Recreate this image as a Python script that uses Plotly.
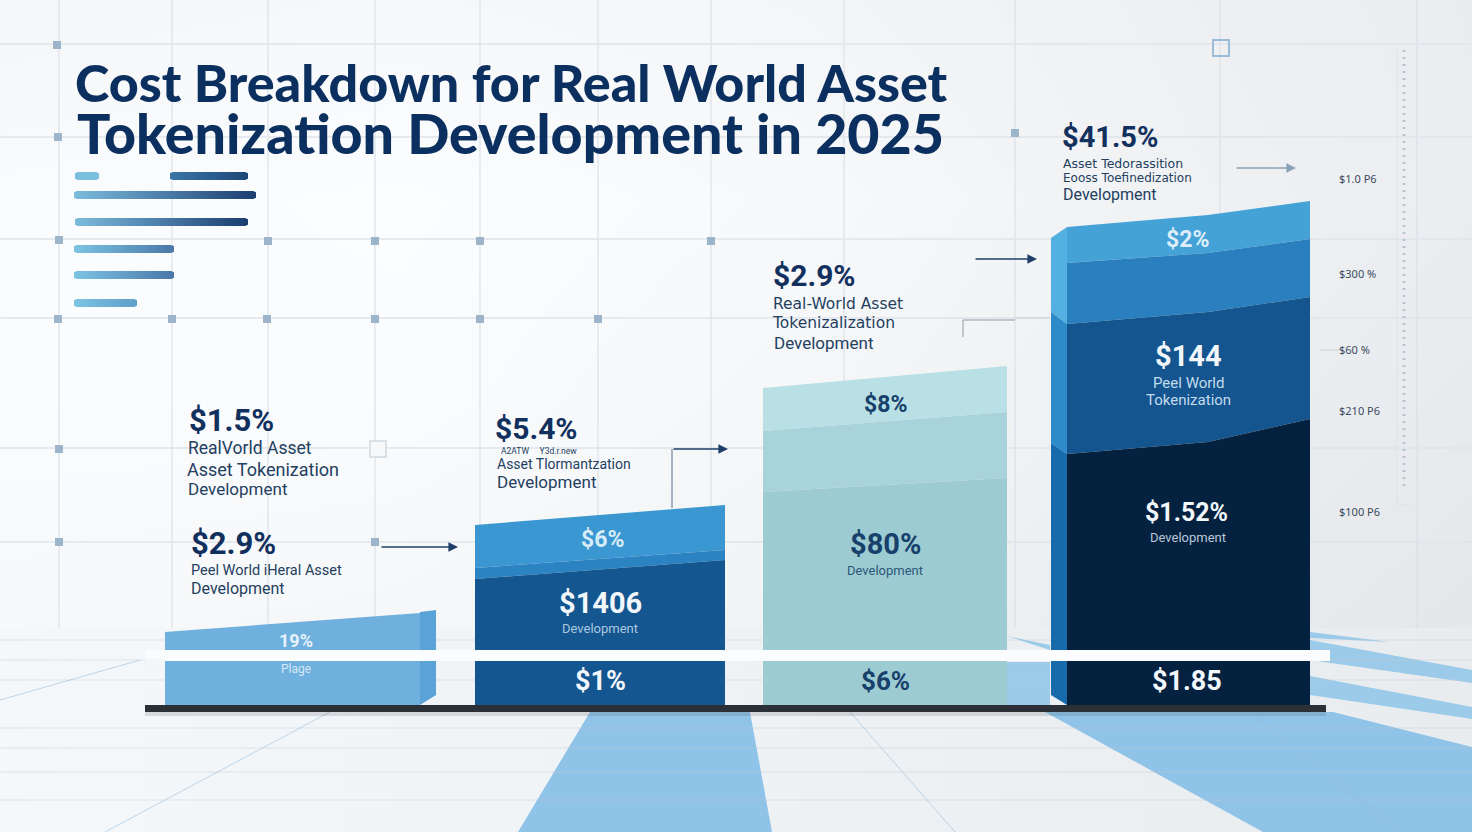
import plotly.graph_objects as go

# ---------- chart values: heights of each band boundary above the base line ----------
BAR1_TOP = [73, 92]

BAR2_TOP = [180, 200]
BAR2_BAND_A = [137, 155]
BAR2_BAND_B = [126, 145]

BAR3_TOP = [317, 339]
BAR3_BAND_A = [274, 293]
BAR3_BAND_B = [213, 227]

BAR4_TOP = [478, 490, 504]
BAR4_BAND_A = [442, 452, 466]
BAR4_BAND_B = [381, 393, 408]
BAR4_BAND_C = [251, 263, 286]

BAR4_SIDE_TOP = [467, 478]
BAR4_SIDE_A = [393, 381]
BAR4_SIDE_B = [262, 251]
BAR4_SIDE_BASE = [10, 0]

BAR1_SIDE_TOP = [93, 95]
BAR1_SIDE_BASE = [0, 10]

# ---------- texts ----------
TITLE_LINES = ["Cost Breakdown for Real World Asset", "Tokenization Development in 2025"]
VALUE_TEXT = [
    ("$1.5%", 187, 420, 31), ("$2.9%", 189, 543, 31), ("$5.4%", 493, 428, 30),
    ("$2.9%", 771, 275, 30), ("$41.5%", 1060, 137, 29),
]
BODY_TEXT = [
    ("RealVorld Asset", 186, 448, 17.5, "Roboto"), ("Asset Tokenization", 185, 469, 18, "Roboto"),
    ("Development", 186, 489, 17, "Roboto"),
    ("Peel World iHeral Asset", 189, 570, 14.5, "Roboto"), ("Development", 189, 588, 16, "Roboto"),
    ("A2ATW     Y3d.r.new", 499, 451, 8.5, "Roboto"), ("Asset Tlormantzation", 495, 464, 14, "Roboto"),
    ("Development", 495, 482, 17, "Roboto"),
    ("Real-World Asset", 771, 304, 15.5, "DejaVu Sans"), ("Tokenizalization", 770, 323, 15.5, "DejaVu Sans"),
    ("Development", 772, 343, 17, "Roboto"),
    ("Asset Tedorassition", 1061, 163, 12.5, "DejaVu Sans"), ("Eooss Toefinedization", 1061, 178, 12, "DejaVu Sans"),
    ("Development", 1061, 194, 16, "Roboto"),
]
AXIS_TEXT = [("$1.0 P6", 178), ("$300 %", 273), ("$60 %", 349), ("$210 P6", 410), ("$100 P6", 511)]
BAR_TEXT = [
    ("19%", 296, 640, 18, True, "#e8f2fa"), ("Plage", 296, 669, 12, False, "#d5e7f5"),
    ("$6%", 602, 539, 23, True, "#d8ecf8"), ("$1406", 600, 603, 29, True, "#f2f7fb"),
    ("Development", 600, 628, 13, False, "#a9c8e0"), ("$1%", 600, 681, 27, True, "#f2f7fb"),
    ("$8%", 885, 404, 23, True, "#17406b"), ("$80%", 885, 544, 29, True, "#17406b"),
    ("Development", 885, 570, 13, False, "#2d5878"), ("$6%", 885, 681, 26, True, "#17406b"),
    ("$2%", 1187, 239, 23, True, "#dceefa"), ("$144", 1188, 356, 29, True, "#f2f7fb"),
    ("Peel World", 1188, 383, 15, False, "#c3dcee"), ("Tokenization", 1188, 400, 15, False, "#c3dcee"),
    ("$1.52%", 1186, 512, 25, True, "#f2f7fb"), ("Development", 1188, 537, 13, False, "#b8c8d8"),
    ("$1.85", 1187, 681, 27, True, "#f2f7fb"),
]

# ---------- decoration ----------
GRID_X = [59, 172, 268, 375, 480, 598, 711, 844, 1015, 1220, 1417]
GRID_Y = [44, 137, 239, 318, 448, 542]
NODES_X = [57, 58, 59, 58, 59, 59, 172, 268, 267, 375, 375, 480, 480, 598, 711, 1015, 375]
NODES_Y = [45, 137, 240, 319, 449, 542, 319, 241, 319, 241, 319, 241, 319, 319, 241, 133, 542]
FLOOR_Y = [640, 660, 680, 728, 748, 772, 800]
BG_X = [-100, 400, 800, 1200, 1572]
BG_Y = [-50, 200, 400, 640]
BG_Z = [[.66, .76, .68, .48, .35],
        [.92, 1.0, .85, .55, .35],
        [.95, .95, .75, .45, .25],
        [.85, .75, .60, .30, .15]]
LEGEND_BARS = [(75, 99, 176, "#7cc0e0", "#7cc0e0"), (170, 248, 176, "#3b75a8", "#1d4878"),
               (74, 256, 195, "#7cbcdd", "#1b3d70"), (75, 248, 222, "#7cbcdd", "#1b3d70"),
               (74, 174, 249, "#7cc4e4", "#4a78a8"), (74, 174, 275, "#7cc4e4", "#4a78a8"),
               (74, 137, 303, "#7cc4e4", "#5f9ec9")]
BASE = 705

fig = go.Figure()

def poly(xs, ys, color=None, axis="y", grad=None, gtype="horizontal"):
    kw = dict(x=xs + xs[:1], y=ys + ys[:1], mode="none", fill="toself", hoverinfo="skip",
              showlegend=False, yaxis=axis)
    if grad:
        kw["fillgradient"] = dict(type=gtype, colorscale=[[0, grad[0]], [1, grad[1]]])
    else:
        kw["fillcolor"] = color
    fig.add_trace(go.Scatter(**kw))

def pill(x0, x1, yc, c0, c1, h=4):
    r = h * 0.7
    xs = [x0 + r, x1 - r, x1, x1, x1 - r, x0 + r, x0, x0]
    ys = [yc - h, yc - h, yc - r, yc + r, yc + h, yc + h, yc + r, yc - r]
    poly(xs, ys, grad=(c0, c1))

def band(x0, x1, upper, lower, color, fracs=None):
    fr = fracs or [0, 1]
    xs = [x0 + (x1 - x0) * f for f in fr]
    poly(xs + xs[::-1], list(upper) + list(lower)[::-1], color, axis="y2")

# background, floor
fig.add_trace(go.Heatmap(x=BG_X, y=BG_Y, z=BG_Z, zsmooth="best", showscale=False, zmin=0, zmax=1,
                         colorscale=[[0, "#dfe2e6"], [1, "#fcfdfe"]], hoverinfo="skip"))
poly([0, 1472, 1472, 0], [628, 628, 832, 832], grad=("#f5f8fa", "#e9ecef"))

# floor blue shapes
BLUE = "#8fc3e7"
poly([590, 750, 772, 518], [712, 712, 832, 832], BLUE)
poly([1045, 1333, 1472, 1472, 1263], [712, 712, 747, 832, 832], BLUE)
poly([1310, 1472, 1472, 1310], [640, 670, 683, 660], "#9ccbea")
poly([1310, 1472, 1472, 1310], [676, 707, 719, 695], "#9ccbea")
poly([1310, 1390, 1310], [632, 642, 638], "#9ccbea")
poly([1007, 1050, 1050, 1007], [662, 662, 705, 705], "#9ccbea")
poly([1007, 1050, 1050], [636, 645, 650], "#9ccbea")

for fy in FLOOR_Y:
    fig.add_trace(go.Scatter(x=[0, 1472], y=[fy, fy], mode="lines", line=dict(color="rgba(190,200,210,0.45)", width=1),
                             hoverinfo="skip", showlegend=False))
for lx, ly in [([105, 330], [832, 712]), ([850, 955], [712, 832]), ([0, 140], [700, 660]), ([1250, 1400], [712, 832])]:
    fig.add_trace(go.Scatter(x=lx, y=ly, mode="lines", line=dict(color="rgba(150,190,220,0.6)", width=1),
                             hoverinfo="skip", showlegend=False))

# grid
for gx in GRID_X:
    fig.add_trace(go.Scatter(x=[gx, gx], y=[0, 628], mode="lines", line=dict(color="#d6dde6", width=1),
                             hoverinfo="skip", showlegend=False))
for gy in GRID_Y:
    fig.add_trace(go.Scatter(x=[0, 1472], y=[gy, gy], mode="lines", line=dict(color="#dfe4ea", width=1.5),
                             hoverinfo="skip", showlegend=False))
fig.add_trace(go.Scatter(x=NODES_X, y=NODES_Y, mode="markers", hoverinfo="skip", showlegend=False,
                         marker=dict(symbol="square", size=8, color="#9db5cb")))
fig.add_trace(go.Scatter(x=[1221], y=[48], mode="markers", hoverinfo="skip", showlegend=False,
                         marker=dict(symbol="square-open", size=16, color="#9cbcd8", line=dict(width=2))))
fig.add_trace(go.Scatter(x=[378], y=[449], mode="markers", hoverinfo="skip", showlegend=False,
                         marker=dict(symbol="square", size=16, color="#f7f8fa", line=dict(width=1.5, color="#cfd7df"))))
# right-hand dotted strip
fig.add_trace(go.Scatter(x=[1404, 1404], y=[50, 486], mode="lines", hoverinfo="skip", showlegend=False,
                         line=dict(color="#b9c5d0", width=3, dash="2px,5px")))
fig.add_trace(go.Scatter(x=[1397, 1397, 1412], y=[50, 505, 505], mode="lines", hoverinfo="skip", showlegend=False,
                         line=dict(color="#dfe4e9", width=1)))
# connector lines
for lx, ly, col in [([1320, 1342], [350, 350], "#c8cfd6"), ([963, 963, 1015], [337, 320, 320], "#8d99a8"),
                    ([1015, 1050], [318, 318], "#c8cfd6"), ([672, 672], [508, 449], "#5b6f88")]:
    fig.add_trace(go.Scatter(x=lx, y=ly, mode="lines", line=dict(color=col, width=1), hoverinfo="skip", showlegend=False))

# legend-like rules
for x0, x1, yc, c0, c1 in LEGEND_BARS:
    pill(x0, x1, yc, c0, c1)

# base slab with shadow
poly([145, 1326, 1326, 145], [712, 712, 716, 716], "rgba(80,90,100,0.18)")
poly([145, 1326, 1326, 145], [705, 705, 712, 712], "#2b2f36")

# bar 1
band(165, 420, BAR1_TOP, [0, 0], "#6fb0de")
band(420, 436, BAR1_SIDE_TOP, BAR1_SIDE_BASE, "#5aa3d8")
# bar 2
band(475, 725, BAR2_TOP, BAR2_BAND_A, "#3a97d1")
band(475, 725, BAR2_BAND_A, BAR2_BAND_B, "#2c83c2")
band(475, 725, BAR2_BAND_B, [0, 0], "#14568f")
# bar 3
band(763, 1007, BAR3_TOP, BAR3_BAND_A, "#b9e0e5")
band(763, 1007, BAR3_BAND_A, BAR3_BAND_B, "#a9d3da")
band(763, 1007, BAR3_BAND_B, [0, 0], "#9ccbd2")
# bar 4 side
band(1051, 1067, BAR4_SIDE_TOP, BAR4_SIDE_A, "#55b0e2")
band(1051, 1067, BAR4_SIDE_A, BAR4_SIDE_B, "#2e8bc9")
band(1051, 1067, BAR4_SIDE_B, BAR4_SIDE_BASE, "#176bab")
# bar 4 front
F = [0, 0.58, 1]
band(1067, 1310, BAR4_TOP, BAR4_BAND_A, "#45a2d7", F)
band(1067, 1310, BAR4_BAND_A, BAR4_BAND_B, "#2a7fbe", F)
band(1067, 1310, BAR4_BAND_B, BAR4_BAND_C, "#14558f", F)
band(1067, 1310, BAR4_BAND_C, [0, 0, 0], "#04213f", F)

# white belt across all bars
fig.add_shape(type="rect", x0=165, x1=1330, y0=650, y1=661, xref="x", yref="y", layer="above",
              fillcolor="#fbfcfd", line_width=0)
fig.add_shape(type="rect", x0=145, x1=165, y0=650, y1=661, xref="x", yref="y", layer="above",
              fillcolor="rgba(255,255,255,0.5)", line_width=0)

def text(s, x, y, size, color, weight=400, anchor="left", family="Roboto"):
    fig.add_annotation(x=x, y=y, xref="x", yref="y", text=s, showarrow=False,
                       xanchor=anchor, yanchor="middle",
                       font=dict(size=size, color=color, family=family, weight=weight))

text(TITLE_LINES[0], 73, 82, 52, "#0b2f5f", 900, family="Lato")
text(TITLE_LINES[1], 75, 132, 55.5, "#0b2f5f", 900, family="Lato")
for s, x, y, sz in VALUE_TEXT:
    text(s, x, y, sz, "#12305e", 700)
for s, x, y, sz, fam in BODY_TEXT:
    text(s, x, y, sz, "#24405f", family=fam)
for s, y in AXIS_TEXT:
    text(s, 1337, y, 11, "#3a4a5f", family="Noto Sans")
for s, x, y, sz, b, c in BAR_TEXT:
    text(s, x, y, sz, c, 700 if b else 400, "center")

# arrows
for x0, x1, y, col in [(380, 458, 547, "#1f3f68"), (672, 728, 449, "#1f3f68"),
                       (974, 1037, 259, "#1f3f68"), (1235, 1296, 168, "#8aa2b8")]:
    fig.add_annotation(x=x1, y=y, ax=x0, ay=y, xref="x", yref="y", axref="x", ayref="y", text="",
                       showarrow=True, arrowhead=2, arrowsize=1.2, arrowwidth=1.6, arrowcolor=col)

fig.update_layout(
    width=1472, height=832, margin=dict(l=0, r=0, t=0, b=0), autosize=False,
    paper_bgcolor="#f2f4f6", plot_bgcolor="#f2f4f6", showlegend=False,
    xaxis=dict(range=[0, 1472], visible=False, fixedrange=True),
    yaxis=dict(range=[832, 0], visible=False, fixedrange=True),
    yaxis2=dict(range=[BASE - 832, BASE], visible=False, fixedrange=True, overlaying="y", side="left"),
)
fig.write_html("out.html", config={"displayModeBar": False},
               post_script="document.body.style.margin='0';document.documentElement.style.overflow='hidden';")
